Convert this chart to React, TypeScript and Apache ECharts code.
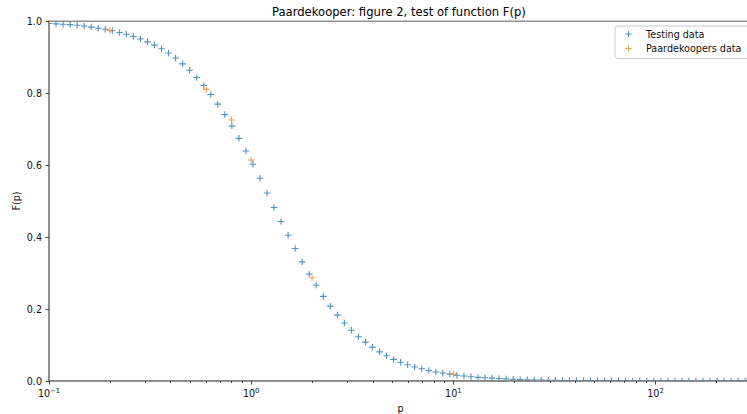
import React, { useEffect, useRef } from "react";
import * as echarts from "echarts";

// ---- data ----
const P_TEST = [
  0.1, 0.1083, 0.1174, 0.1272, 0.1378, 0.1493, 0.1617, 0.1752, 0.1898, 0.2056,
  0.2228, 0.2414, 0.2615, 0.2833, 0.3069, 0.3325, 0.3602, 0.3903, 0.4228, 0.4581,
  0.4963, 0.5377, 0.5826, 0.631, 0.6836, 0.7406, 0.8024, 0.8693, 0.9418, 1.02,
  1.105, 1.198, 1.297, 1.406, 1.523, 1.65, 1.787, 1.936, 2.098, 2.273,
  2.462, 2.668, 2.89, 3.131, 3.392, 3.675, 3.981, 4.313, 4.673, 5.063,
  5.485, 5.942, 6.438, 6.975, 7.556, 8.186, 8.869, 9.608, 10.41, 11.28,
  12.22, 13.24, 14.34, 15.54, 16.83, 18.24, 19.76, 21.41, 23.19, 25.12,
  27.21, 29.48, 31.94, 34.61, 37.49, 40.62, 44.01, 47.68, 51.65, 55.96,
  60.63, 65.68, 71.16, 77.1, 83.53, 90.49, 98.04, 106.2, 115.1, 124.7,
  135.1, 146.3, 158.5, 171.7, 186.0, 201.6, 218.4, 236.6, 256.3, 277.7,
];
const F_TEST = [
  0.993, 0.992, 0.991, 0.99, 0.988, 0.986, 0.983, 0.98, 0.977, 0.973,
  0.968, 0.963, 0.957, 0.95, 0.942, 0.933, 0.923, 0.911, 0.897, 0.881,
  0.863, 0.843, 0.821, 0.796, 0.769, 0.74, 0.708, 0.674, 0.639, 0.602,
  0.563, 0.522, 0.482, 0.443, 0.405, 0.368, 0.331, 0.297, 0.266, 0.235,
  0.208, 0.183, 0.161, 0.141, 0.123, 0.108, 0.094, 0.081, 0.07, 0.06,
  0.052, 0.045, 0.039, 0.034, 0.029, 0.025, 0.022, 0.019, 0.016, 0.014,
  0.012, 0.01, 0.009, 0.008, 0.0068, 0.0058, 0.005, 0.0042, 0.0036, 0.003,
  0.0026, 0.0022, 0.0018, 0.0015, 0.0013, 0.0011, 0.0009, 0.0008, 0.0006, 0.0005,
  0.0004, 0.0004, 0.0003, 0.0003, 0.0002, 0.0002, 0.0002, 0.0001, 0.0001, 0.0001,
  0.0001, 0.0001, 0.0001, 0.0001, 0.0, 0.0, 0.0, 0.0, 0.0, 0.0,
];
const P_PAAR = [0.1, 0.2, 0.6, 0.8, 1.0, 2.0, 10];
const F_PAAR = [1.0, 0.974, 0.81, 0.725, 0.614, 0.287, 0.019];

const X_MAJOR_TICKS = [0.1, 1, 10, 100];
const X_MINOR_TICKS = [
  0.2, 0.3, 0.4, 0.5, 0.6, 0.7, 0.8, 0.9,
  2, 3, 4, 5, 6, 7, 8, 9,
  20, 30, 40, 50, 60, 70, 80, 90,
  200, 300,
];
const X_MIN = 0.1;
const X_MAX = 300;
const Y_MIN = 0;
const Y_MAX = 1;
const Y_STEP = 0.2;

const TITLE = "Paardekooper: figure 2, test of function F(p)";
const SERIES_NAMES = ["Testing data", "Paardekoopers data"];
const X_NAME = "p";
const Y_NAME = "F(p)";

// ---- style / layout ----
const FONT = "DejaVu Sans";
const W = 747;
const H = 414;
const GRID = { left: 49, top: 21, width: 703, height: 360 };
const BLUE = "#1f77b4";
const ORANGE = "#ff7f0e";
const CROSS = "path://M2.5,0H3.5V2.5H6V3.5H3.5V6H2.5V3.5H0V2.5H2.5Z";
const LEGEND_CROSS = "path://M0,0M22,6M9,0H10V2.5H12.5V3.5H10V6H9V3.5H6.5V2.5H9Z";

export default function App() {
  const ref = useRef<HTMLDivElement>(null);

  useEffect(() => {
    if (!ref.current) return;
    const chart = echarts.init(ref.current, null, { renderer: "svg" });
    const bottomY = GRID.top + GRID.height;

    const tickLine = { color: "#333", width: 0.9 };
    const spine = { color: "#8a8a8a", width: 1.5 };

    const option: any = {
      animation: false,
      backgroundColor: "#ffffff",
      textStyle: { fontFamily: FONT },
      title: {
        text: TITLE,
        left: 272,
        top: 5,
        padding: 0,
        z: 10,
        textStyle: { fontFamily: FONT, fontSize: 11.6, fontWeight: "normal", color: "#000", lineHeight: 14 },
      },
      legend: {
        left: 615,
        top: 26,
        orient: "vertical",
        padding: [2, 24, 4, 4],
        itemGap: 2.6,
        itemWidth: 22,
        itemHeight: 6,
        backgroundColor: "rgba(255,255,255,0.8)",
        borderColor: "#cccccc",
        borderWidth: 1,
        borderRadius: 3,
        z: 10,
        textStyle: { fontFamily: FONT, fontSize: 9.6, color: "#111", lineHeight: 12 },
        data: SERIES_NAMES.map((n) => ({ name: n, icon: LEGEND_CROSS })),
      },
      grid: {
        ...GRID,
        outerBoundsMode: "none",
        containLabel: false,
        show: true,
        borderColor: "#222",
        borderWidth: 1,
        backgroundColor: "transparent",
      },
      xAxis: [
        {
          type: "log",
          logBase: 10,
          min: X_MIN,
          max: X_MAX,
          position: "bottom",
          z: 10,
          name: X_NAME,
          nameLocation: "middle",
          nameGap: 21,
          nameMoveOverlap: false,
          nameTextStyle: { fontFamily: FONT, fontSize: 9.6, color: "#111", lineHeight: 12 },
          axisLine: { show: true, lineStyle: spine },
          axisTick: { show: true, customValues: X_MAJOR_TICKS, length: 3.5, lineStyle: tickLine },
          axisLabel: {
            customValues: X_MAJOR_TICKS,
            margin: 6,
            formatter: (v: number) => {
              const e = Math.round(Math.log10(v));
              const s = e < 0 ? "\u2212" + Math.abs(e) : String(e);
              return "{b|10}{s|" + s + "}";
            },
            rich: {
              b: { fontFamily: FONT, fontSize: 9.6, lineHeight: 12, color: "#111" },
              s: { fontFamily: FONT, fontSize: 6.8, lineHeight: 7, verticalAlign: "top", color: "#111" },
            },
          },
          splitLine: { show: false },
          minorTick: { show: false },
        },
        {
          type: "log",
          logBase: 10,
          min: X_MIN,
          max: X_MAX,
          position: "bottom",
          z: 10,
          axisLine: { show: false },
          axisTick: { show: true, customValues: X_MINOR_TICKS, length: 2, lineStyle: tickLine },
          axisLabel: { show: false },
          splitLine: { show: false },
        },
      ],
      yAxis: {
        type: "value",
        min: Y_MIN,
        max: Y_MAX,
        interval: Y_STEP,
        z: 10,
        name: Y_NAME,
        nameLocation: "middle",
        nameGap: 26.5,
        nameRotate: 90,
        nameMoveOverlap: false,
        nameTextStyle: { fontFamily: FONT, fontSize: 9.6, color: "#111", lineHeight: 12 },
        axisLine: { show: true, lineStyle: spine },
        axisTick: { show: true, length: 3.5, lineStyle: tickLine },
        axisLabel: {
          margin: 7,
          fontFamily: FONT,
          fontSize: 9.6,
          color: "#111",
          formatter: (v: number) => v.toFixed(1),
        },
        splitLine: { show: false },
      },
      series: [
        {
          type: "scatter",
          name: SERIES_NAMES[0],
          xAxisIndex: 0,
          data: P_TEST.map((p, i) => [p, F_TEST[i]]),
          symbol: CROSS,
          symbolSize: 6.5,
          itemStyle: { color: BLUE },
          z: 2,
        },
        {
          type: "scatter",
          name: SERIES_NAMES[1],
          xAxisIndex: 0,
          data: P_PAAR.map((p, i) => [p, F_PAAR[i]]),
          symbol: CROSS,
          symbolSize: 6.5,
          itemStyle: { color: ORANGE },
          z: 3,
        },
      ],
      graphic: {
        elements: [
          { type: "rect", z: 5, silent: true, shape: { x: 0, y: 0, width: W, height: GRID.top - 0.6 }, style: { fill: "#fff" } },
          { type: "rect", z: 5, silent: true, shape: { x: 0, y: 0, width: GRID.left - 0.7, height: H }, style: { fill: "#fff" } },
          { type: "rect", z: 5, silent: true, shape: { x: 0, y: bottomY + 0.8, width: W, height: H - bottomY }, style: { fill: "#fff" } },
        ],
      },
    };

    chart.setOption(option);
    return () => chart.dispose();
  }, []);

  return (
    <div
      ref={ref}
      style={{ position: "fixed", left: 0, top: 0, width: W, height: H, background: "#fff" }}
    />
  );
}
